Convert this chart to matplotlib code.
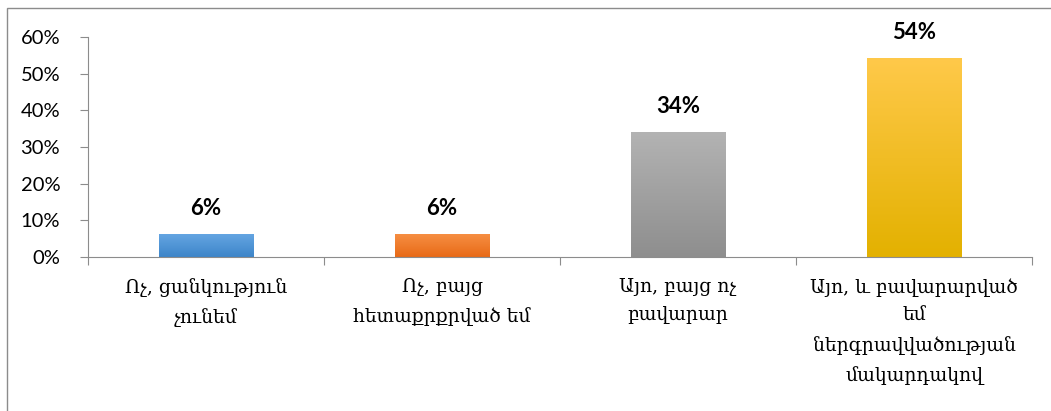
import numpy as np
import matplotlib.pyplot as plt
from matplotlib.colors import LinearSegmentedColormap
from matplotlib.patches import Rectangle

# Տվյալներ
categories = ['Ոչ, ցանկություն\nչունեմ',
              'Ոչ, բայց\nհետաքրքրված եմ',
              'Այո, բայց ոչ\nբավարար',
              'Այո, և բավարարված\nեմ\nներգրավվածության\nմակարդակով']
values = [6, 6, 34, 54]
yticks = [0, 10, 20, 30, 40, 50, 60]
# գրադիենտ գույներ (վերև, ներքև)
gradients = [('#64a5e2', '#3d85c9'),
             ('#f68e42', '#e86a17'),
             ('#b3b3b3', '#8e8e8e'),
             ('#ffc94a', '#e3b100')]

fig = plt.figure(figsize=(10.51, 4.11), dpi=100)
ax = fig.add_axes([0.0837, 0.3747, 0.8983, 0.5353])

x = np.arange(len(values))
bars = ax.bar(x, values, width=0.4, color='none')

grad = np.linspace(0, 1, 256).reshape(-1, 1)
for b, (top, bot) in zip(bars, gradients):
    cmap = LinearSegmentedColormap.from_list('g', [bot, top])
    ax.imshow(grad, extent=[b.get_x(), b.get_x() + b.get_width(), 0, b.get_height()],
              origin='lower', cmap=cmap, aspect='auto', zorder=2)
    ax.text(b.get_x() + b.get_width() / 2, b.get_height() + 4.3, f'{b.get_height():.0f}%',
            ha='center', va='bottom', fontsize=16, fontweight='bold', family='Lato')

ax.set_xlim(-0.5, len(values) - 0.5)
ax.set_ylim(0, 60)
ax.set_yticks(yticks)
ax.set_yticklabels([f'{t}%' for t in yticks], fontsize=14.5, family='Lato')
ax.set_xticks(np.arange(len(values) + 1) - 0.5, minor=False)
ax.set_xticklabels([])
ax.set_xticks(x, minor=True)
ax.set_xticklabels(categories, minor=True, fontsize=13.5,
                   family=['DejaVu Serif', 'Noto Sans', 'DejaVu Sans'], linespacing=1.75)
ax.tick_params(axis='x', which='minor', length=0, pad=15)
ax.tick_params(axis='x', which='major', length=6, color='#8c8c8c')
ax.tick_params(axis='y', length=6, color='#8c8c8c', pad=14)

for s in ['top', 'right']:
    ax.spines[s].set_visible(False)
for s in ['left', 'bottom']:
    ax.spines[s].set_color('#8c8c8c')

# շրջանակ
fig.patches.append(Rectangle((7 / 1051, -0.1), 1.2, (411 - 8) / 411 + 0.1,
                             transform=fig.transFigure, fill=False,
                             edgecolor='#8c8c8c', linewidth=1))

fig.savefig('out.png', dpi=100)
